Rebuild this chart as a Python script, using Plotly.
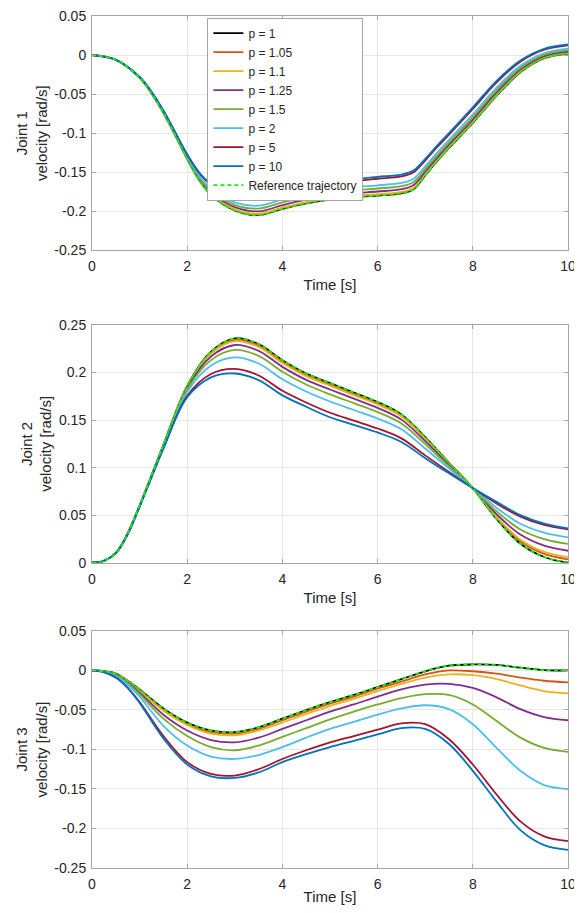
import plotly.graph_objects as go

series_labels = ["p = 1", "p = 1.05", "p = 1.1", "p = 1.25", "p = 1.5",
                 "p = 2", "p = 5", "p = 10", "Reference trajectory"]
series_colors = ["#000000", "#D95319", "#EDB120", "#7E2F8E", "#77AC30",
                 "#4DBEEE", "#A2142F", "#0072BD", "#00FF00"]

x_ticks = [0, 2, 4, 6, 8, 10]
y_ticks_j1 = [0.05, 0, -0.05, -0.1, -0.15, -0.2, -0.25]
y_ticktext_j1 = ["0.05", "0", "-0.05", "-0.1", "-0.15", "-0.2", "-0.25"]
y_ticks_j2 = [0.25, 0.2, 0.15, 0.1, 0.05, 0]
y_ticktext_j2 = ["0.25", "0.2", "0.15", "0.1", "0.05", "0"]
y_ticks_j3 = [0.05, 0, -0.05, -0.1, -0.15, -0.2, -0.25]
y_ticktext_j3 = ["0.05", "0", "-0.05", "-0.1", "-0.15", "-0.2", "-0.25"]

# ---------------- Joint 1 ----------------
time_j1 = [0, 0.5, 1, 1.25, 1.5, 1.75, 2, 2.25, 2.5, 3, 3.5, 4, 4.5, 5, 5.5, 6, 6.5, 6.75,
           7, 7.25, 7.5, 8, 8.5, 9, 9.5, 10]
j1_p1 = [0, -0.006, -0.029, -0.049, -0.074, -0.103, -0.133, -0.160, -0.179, -0.199, -0.205, -0.197,
         -0.190, -0.185, -0.182, -0.180, -0.177, -0.172, -0.154, -0.136, -0.119, -0.087, -0.052,
         -0.022, -0.004, 0.002]
j1_p105 = [0, -0.006, -0.029, -0.0489, -0.0739, -0.1028, -0.1328, -0.1596, -0.1784, -0.1982, -0.2041,
           -0.1961, -0.1891, -0.1841, -0.1811, -0.179, -0.176, -0.171, -0.1532, -0.1352, -0.1182,
           -0.0862, -0.0512, -0.0214, -0.0035, 0.0025]
j1_p11 = [0, -0.006, -0.0289, -0.0488, -0.0738, -0.1027, -0.1325, -0.1592, -0.1779, -0.1975, -0.2032,
          -0.1952, -0.1882, -0.1832, -0.1802, -0.1781, -0.1751, -0.1701, -0.1523, -0.1344, -0.1175,
          -0.0854, -0.0505, -0.0208, -0.003, 0.0029]
j1_p125 = [0, -0.006, -0.0288, -0.0486, -0.0733, -0.1021, -0.1317, -0.1578, -0.1759, -0.1948, -0.2002,
           -0.1922, -0.1852, -0.1802, -0.1769, -0.1747, -0.1717, -0.1667, -0.1494, -0.1316, -0.1148,
           -0.0826, -0.0478, -0.0187, -0.0014, 0.0045]
j1_p15 = [0, -0.006, -0.0286, -0.0482, -0.0729, -0.1015, -0.1307, -0.1562, -0.1737, -0.1918, -0.1966,
          -0.1886, -0.1816, -0.1766, -0.1733, -0.1709, -0.1679, -0.1629, -0.146, -0.1284, -0.1118,
          -0.0794, -0.0448, -0.0163, 0.0006, 0.0064]
j1_p2 = [0, -0.006, -0.0285, -0.0479, -0.0724, -0.1008, -0.1297, -0.1545, -0.1713, -0.1886, -0.1929,
         -0.1849, -0.1779, -0.1729, -0.1694, -0.1668, -0.1638, -0.1588, -0.1425, -0.125, -0.1086,
         -0.076, -0.0416, -0.0138, 0.0026, 0.0083]
j1_p5 = [0, -0.006, -0.0281, -0.0472, -0.0713, -0.0994, -0.1276, -0.151, -0.1664, -0.1819, -0.1852,
         -0.1772, -0.1702, -0.1652, -0.1613, -0.1584, -0.1554, -0.1504, -0.1351, -0.118, -0.1019,
         -0.069, -0.0349, -0.0085, 0.0068, 0.0124]
j1_p10 = [0, -0.006, -0.028, -0.047, -0.071, -0.099, -0.127, -0.150, -0.165, -0.180, -0.183, -0.175,
          -0.168, -0.163, -0.159, -0.156, -0.153, -0.148, -0.133, -0.116, -0.100, -0.067, -0.033,
          -0.007, 0.008, 0.0135]
j1_ref = [0, -0.006, -0.029, -0.049, -0.074, -0.103, -0.133, -0.160, -0.179, -0.199, -0.205, -0.197,
          -0.190, -0.185, -0.182, -0.180, -0.177, -0.172, -0.154, -0.136, -0.119, -0.087, -0.052,
          -0.022, -0.004, 0.002]

# ---------------- Joint 2 ----------------
time_j2 = [0, 0.25, 0.5, 0.75, 1, 1.5, 2, 2.5, 3, 3.5, 4, 4.5, 5, 5.5, 6, 6.5, 7, 7.5, 8, 8.5,
           9, 9.5, 10]
j2_p1 = [0, 0.002, 0.010, 0.031, 0.060, 0.124, 0.186, 0.222, 0.236, 0.230, 0.213, 0.199, 0.189,
         0.179, 0.169, 0.156, 0.132, 0.105, 0.0785, 0.046, 0.020, 0.006, 0.000]
j2_p105 = [0, 0.002, 0.010, 0.031, 0.060, 0.1238, 0.1855, 0.2209, 0.2345, 0.2285, 0.2115, 0.1976,
           0.1876, 0.1776, 0.1677, 0.1548, 0.1311, 0.1046, 0.0785, 0.0473, 0.0226, 0.0093, 0.0036]
j2_p11 = [0, 0.002, 0.010, 0.031, 0.060, 0.1237, 0.185, 0.2198, 0.233, 0.227, 0.210, 0.1962,
          0.1861, 0.1763, 0.1664, 0.1537, 0.1302, 0.1041, 0.0785, 0.0482, 0.0242, 0.0114, 0.0058]
j2_p125 = [0, 0.002, 0.010, 0.031, 0.0598, 0.1232, 0.1837, 0.2169, 0.229, 0.2228, 0.206, 0.1923,
           0.1822, 0.1725, 0.1629, 0.1505, 0.1278, 0.1029, 0.0785, 0.051, 0.0296, 0.0179, 0.0126]
j2_p15 = [0, 0.002, 0.010, 0.0305, 0.0597, 0.1227, 0.182, 0.2131, 0.2238, 0.2175, 0.2008, 0.1874,
          0.1771, 0.1678, 0.1584, 0.1464, 0.1247, 0.1014, 0.0785, 0.0541, 0.035, 0.0249, 0.0198]
j2_p2 = [0, 0.002, 0.010, 0.0303, 0.0595, 0.1218, 0.1795, 0.2074, 0.216, 0.2095, 0.193, 0.1801,
         0.1696, 0.1606, 0.1517, 0.1403, 0.1201, 0.0991, 0.0785, 0.0577, 0.041, 0.0316, 0.0266]
j2_p5 = [0, 0.002, 0.010, 0.030, 0.059, 0.1205, 0.1756, 0.1985, 0.2038, 0.1969, 0.1808, 0.1685,
         0.1577, 0.1494, 0.1412, 0.1308, 0.1129, 0.0954, 0.0785, 0.0622, 0.0485, 0.0397, 0.035]
j2_p10 = [0, 0.002, 0.010, 0.030, 0.059, 0.120, 0.174, 0.195, 0.199, 0.192, 0.176, 0.164, 0.153,
          0.145, 0.137, 0.127, 0.110, 0.094, 0.0785, 0.064, 0.050, 0.041, 0.036]
j2_ref = [0, 0.002, 0.010, 0.031, 0.060, 0.124, 0.186, 0.222, 0.236, 0.230, 0.213, 0.199, 0.189,
          0.179, 0.169, 0.156, 0.132, 0.105, 0.0785, 0.046, 0.020, 0.006, 0.000]

# ---------------- Joint 3 ----------------
time_j3 = [0, 0.25, 0.5, 0.75, 1, 1.5, 2, 2.5, 3, 3.5, 4, 4.5, 5, 5.5, 6, 6.5, 7, 7.5, 8, 8.5,
           9, 9.5, 10]
j3_p1 = [0, -0.001, -0.004, -0.013, -0.024, -0.048, -0.066, -0.076, -0.078, -0.072, -0.061, -0.050,
         -0.040, -0.031, -0.021, -0.011, -0.001, 0.006, 0.0076, 0.007, 0.0035, 0.0005, 0]
j3_p105 = [0, -0.001, -0.004, -0.013, -0.025, -0.050, -0.068, -0.078, -0.080, -0.074, -0.063, -0.052,
           -0.042, -0.033, -0.023, -0.014, -0.005, 0.000, -0.001, -0.004, -0.009, -0.013, -0.015]
j3_p11 = [0, -0.001, -0.005, -0.014, -0.026, -0.051, -0.069, -0.080, -0.082, -0.076, -0.066, -0.055,
          -0.045, -0.036, -0.026, -0.017, -0.009, -0.005, -0.006, -0.011, -0.019, -0.026, -0.029]
j3_p125 = [0, -0.001, -0.005, -0.015, -0.028, -0.056, -0.076, -0.088, -0.091, -0.085, -0.074, -0.063,
           -0.052, -0.043, -0.033, -0.024, -0.018, -0.017, -0.022, -0.034, -0.049, -0.059, -0.063]
j3_p15 = [0, -0.001, -0.006, -0.016, -0.030, -0.061, -0.083, -0.097, -0.101, -0.095, -0.084, -0.073,
          -0.062, -0.052, -0.043, -0.035, -0.030, -0.031, -0.043, -0.064, -0.085, -0.098, -0.103]
j3_p2 = [0, -0.0015, -0.007, -0.018, -0.033, -0.070, -0.095, -0.109, -0.112, -0.107, -0.097, -0.085,
         -0.074, -0.065, -0.056, -0.048, -0.044, -0.049, -0.068, -0.098, -0.127, -0.145, -0.150]
j3_p5 = [0, -0.002, -0.009, -0.022, -0.040, -0.083, -0.116, -0.131, -0.133, -0.125, -0.112, -0.101,
         -0.091, -0.083, -0.075, -0.067, -0.068, -0.087, -0.119, -0.157, -0.191, -0.210, -0.216]
j3_p10 = [0, -0.002, -0.009, -0.022, -0.041, -0.086, -0.119, -0.134, -0.136, -0.129, -0.116, -0.106,
          -0.097, -0.089, -0.081, -0.073, -0.074, -0.093, -0.127, -0.166, -0.202, -0.221, -0.227]
j3_ref = [0, -0.001, -0.004, -0.013, -0.024, -0.048, -0.066, -0.076, -0.078, -0.072, -0.061, -0.050,
          -0.040, -0.031, -0.021, -0.011, -0.001, 0.006, 0.0076, 0.007, 0.0035, 0.0005, 0]

joints = [
    (time_j1, [j1_p1, j1_p105, j1_p11, j1_p125, j1_p15, j1_p2, j1_p5, j1_p10, j1_ref], "x", "y"),
    (time_j2, [j2_p1, j2_p105, j2_p11, j2_p125, j2_p15, j2_p2, j2_p5, j2_p10, j2_ref], "x2", "y2"),
    (time_j3, [j3_p1, j3_p105, j3_p11, j3_p125, j3_p15, j3_p2, j3_p5, j3_p10, j3_ref], "x3", "y3"),
]

FONT = "Arial, Liberation Sans, sans-serif"
fig = go.Figure()
for ji, (tt, series, xa, ya) in enumerate(joints):
    for si, vals in enumerate(series):
        is_ref = si == len(series) - 1
        fig.add_trace(go.Scatter(
            x=tt, y=vals, mode="lines", name=series_labels[si],
            legendgroup=series_labels[si], showlegend=(ji == 0),
            line=dict(color=series_colors[si], width=1.8,
                      dash="4px,3px" if is_ref else "solid",
                      shape="spline", smoothing=1.0),
            xaxis=xa, yaxis=ya))

axis_common = dict(
    showline=True, linecolor="#a6a6a6", linewidth=1, mirror="allticks",
    ticks="inside", ticklen=4, tickcolor="#a6a6a6",
    showgrid=True, gridcolor="#e6e6e6", gridwidth=1, zeroline=False,
    automargin=False, ticklabeloverflow="allow",
    tickfont=dict(family=FONT, size=14, color="#262626"),
)

y_title_font = dict(family=FONT, size=15, color="#262626")
x_title_font = dict(family=FONT, size=15, color="#262626")

doms = [[0.725, 1.0], [0.3583, 0.6373], [0.0, 0.2782]]
yt = [(y_ticks_j1, y_ticktext_j1, [-0.25, 0.05]),
      (y_ticks_j2, y_ticktext_j2, [0, 0.25]),
      (y_ticks_j3, y_ticktext_j3, [-0.25, 0.05])]

# the page body has an 8px margin, so the figure is sized to fit the window
layout = dict(
    width=574, height=897,
    margin=dict(l=84, r=14, t=8, b=37, autoexpand=False),
    paper_bgcolor="white", plot_bgcolor="white",
    font=dict(family=FONT, color="#262626"),
    legend=dict(x=0.2424, y=0.998, xanchor="left", yanchor="top",
                bgcolor="white", bordercolor="#a6a6a6", borderwidth=1,
                font=dict(family=FONT, size=12, color="#262626"),
                itemwidth=30, tracegroupgap=0),
)
for i in range(3):
    sfx = "" if i == 0 else str(i + 1)
    layout["xaxis" + sfx] = dict(
        axis_common, domain=[0, 1], range=[0, 10], anchor="y" + sfx,
        tickvals=x_ticks, ticktext=[str(v) for v in x_ticks], ticklabelstandoff=3,
        title=dict(text="Time [s]", font=x_title_font, standoff=6))
    tv, tx, rg = yt[i]
    layout["yaxis" + sfx] = dict(
        axis_common, domain=doms[i], range=rg, anchor="x" + sfx,
        tickvals=tv, ticktext=tx, ticklabelstandoff=2,
        title=dict(text="Joint %d<br>velocity [rad/s]" % (i + 1), font=y_title_font, standoff=3))

fig.update_layout(**layout)
fig.write_html("out.html")
